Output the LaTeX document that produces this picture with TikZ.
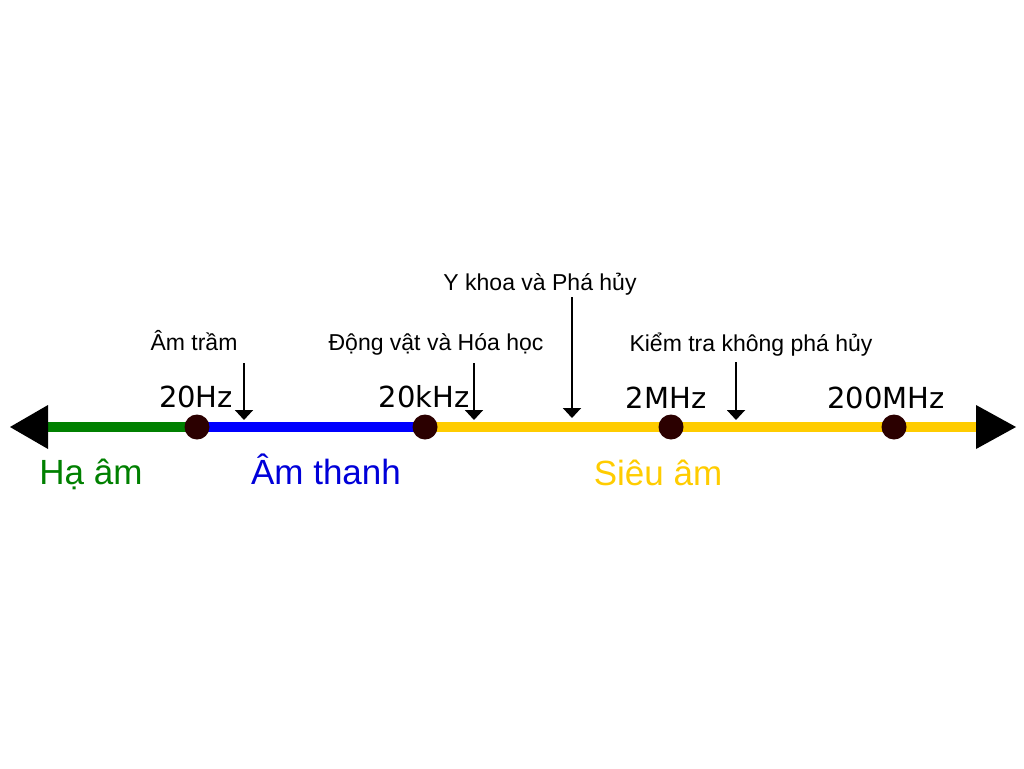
\documentclass[tikz,border=0pt]{standalone}
\usepackage{fontspec}
\setmainfont{Liberation Sans}
\newfontfamily\freqfont{DejaVu Sans}
\usetikzlibrary{arrows.meta}
\definecolor{hagreen}{RGB}{0,128,0}
\definecolor{amblue}{RGB}{0,0,255}
\definecolor{sieuyellow}{RGB}{255,204,0}
\definecolor{dotbrown}{RGB}{43,0,0}
\tikzset{
  band/.style={line width=10pt},
  dot/.style={circle,fill=dotbrown,minimum size=25pt,inner sep=0pt},
  freq/.style={anchor=base,font=\freqfont\fontsize{29}{29}\selectfont},
  usage/.style={anchor=base,font=\fontsize{23}{23}\selectfont},
  region/.style={anchor=base,font=\fontsize{35}{35}\selectfont},
  pointer/.style={line width=2pt,-{Triangle[length=10pt,width=18pt]}}
}
\begin{document}
\begin{tikzpicture}[x=1pt,y=-1pt]
\useasboundingbox (0,0) rectangle (1024,768);
% axis
\coordinate (left) at (46,427);
\coordinate (right) at (978,427);
\coordinate (p20hz) at (197,427);
\coordinate (p20khz) at (425,427);
\coordinate (p2mhz) at (671,427);
\coordinate (p200mhz) at (894,427);
\draw[band,hagreen] (left) -- (p20hz);
\draw[band,amblue] (p20hz) -- (p20khz);
\draw[band,sieuyellow] (p20khz) -- (right);
\fill (48,405) -- (10,427) -- (48,449) -- cycle;
\fill (976,405) -- (1016,427) -- (976,449) -- cycle;
\node[dot] (d20hz) at (p20hz) {};
\node[dot] (d20khz) at (p20khz) {};
\node[dot] (d2mhz) at (p2mhz) {};
\node[dot] (d200mhz) at (p200mhz) {};
% frequencies
\node[freq] (f20hz) at (196,407) {20Hz};
\node[freq] (f20khz) at (424,407) {20kHz};
\node[freq] (f2mhz) at (666,408) {2MHz};
\node[freq] (f200mhz) at (886,408) {200MHz};
% regions
\node[region,text=hagreen] (ha) at (91,484) {Hạ âm};
\node[region,text=amblue!85!black] (am) at (326,484) {Âm thanh};
\node[region,text=sieuyellow] (sieu) at (658,485) {Siêu âm};
% uses
\node[usage] (tram) at (194,350) {Âm trầm};
\node[usage] (dongvat) at (436,350) {Động vật và Hóa học};
\node[usage] (ykhoa) at (540,290) {Y khoa và Phá hủy};
\node[usage] (kiemtra) at (751,351) {Kiểm tra không phá hủy};
\coordinate (tramtop) at (244,363);
\coordinate (tramtip) at (244,420);
\coordinate (dongvattop) at (474,363);
\coordinate (dongvattip) at (474,420);
\coordinate (ykhoatop) at (572,297);
\coordinate (ykhoatip) at (572,418);
\coordinate (kiemtratop) at (736,362);
\coordinate (kiemtratip) at (736,420);
\draw[pointer] (tramtop) -- (tramtip);
\draw[pointer] (dongvattop) -- (dongvattip);
\draw[pointer] (ykhoatop) -- (ykhoatip);
\draw[pointer] (kiemtratop) -- (kiemtratip);
\end{tikzpicture}
\end{document}
